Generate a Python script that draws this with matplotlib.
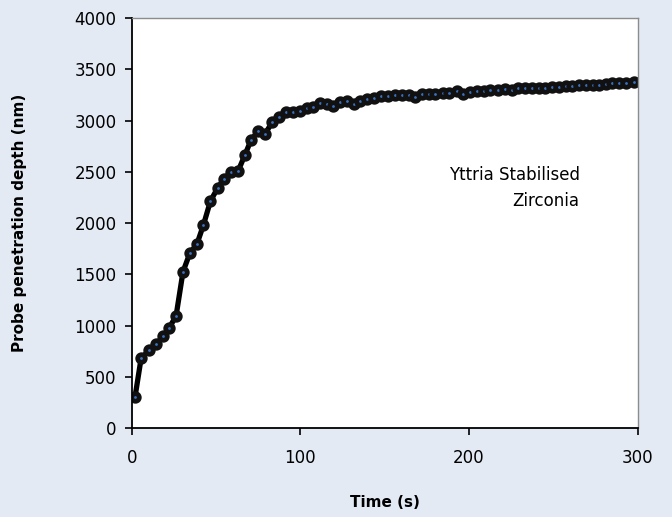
import matplotlib.pyplot as plt

# probe penetration depth vs time
time_s = [2.0, 5.6, 10.3, 14.5, 18.8, 22.3, 26.3, 30.4, 34.5, 38.6,
          42.5, 46.7, 51.0, 54.8, 58.8, 63.0, 67.0, 70.7, 75.1, 79.0,
          83.4, 87.5, 91.3, 95.4, 99.5, 103.7, 107.6, 111.6, 115.7, 119.5,
          123.7, 127.6, 131.5, 135.5, 139.6, 143.9, 147.9, 151.9, 156.0, 160.3,
          164.1, 168.1, 172.2, 176.1, 180.0, 184.4, 188.3, 192.6, 196.5, 200.5,
          204.6, 208.8, 212.7, 217.2, 221.2, 225.2, 229.1, 233.1, 237.4, 241.4,
          245.3, 249.2, 253.4, 257.3, 261.3, 265.2, 269.2, 273.2, 277.1, 281.1,
          285.0, 288.8, 293.0, 297.5]
depth_nm = [307, 683, 757, 822, 896, 980, 1094, 1525, 1708, 1792,
            1980, 2216, 2343, 2435, 2494, 2505, 2660, 2809, 2900, 2868,
            2988, 3033, 3079, 3079, 3089, 3119, 3131, 3170, 3163, 3143,
            3180, 3190, 3160, 3192, 3211, 3218, 3238, 3243, 3250, 3253,
            3246, 3235, 3260, 3263, 3263, 3271, 3274, 3289, 3259, 3278,
            3288, 3290, 3297, 3297, 3304, 3297, 3314, 3314, 3314, 3314,
            3322, 3329, 3329, 3338, 3338, 3345, 3345, 3352, 3352, 3355,
            3362, 3368, 3370, 3372]

x_ticks = [0, 100, 200, 300]
y_ticks = [0, 500, 1000, 1500, 2000, 2500, 3000, 3500, 4000]

bg = "#E3EAF4"
fig = plt.figure(figsize=(6.72, 5.17), dpi=100, facecolor=bg)
ax = fig.add_axes([0.196, 0.172, 0.753, 0.793])
ax.set_facecolor("white")

ax.plot(time_s, depth_nm, color="black", linewidth=3.8,
        marker="o", markersize=5.5, markerfacecolor="#3A6FC0",
        markeredgecolor="#111111", markeredgewidth=3.4)

ax.set_xlim(0, 300)
ax.set_ylim(0, 4000)
ax.set_xticks(x_ticks)
ax.set_yticks(y_ticks)
ax.tick_params(direction="out", length=5, width=1.2, labelsize=12, colors="black", pad=10)
ax.tick_params(axis="y", pad=6)

for side in ["left", "bottom"]:
    ax.spines[side].set_color("black")
    ax.spines[side].set_linewidth(1.3)
for side in ["top", "right"]:
    ax.spines[side].set_color("#8C8C8C")
    ax.spines[side].set_linewidth(1.0)

ax.set_xlabel("Time (s)", fontsize=11, fontweight="bold", labelpad=20)
ax.set_ylabel("Probe penetration depth (nm)", fontsize=11, fontweight="bold", labelpad=34)

ax.text(0.885, 0.585, "Yttria Stabilised\nZirconia", transform=ax.transAxes,
        ha="right", va="center", fontsize=12, linespacing=1.6)

fig.savefig("out.png", dpi=100, facecolor=bg)
